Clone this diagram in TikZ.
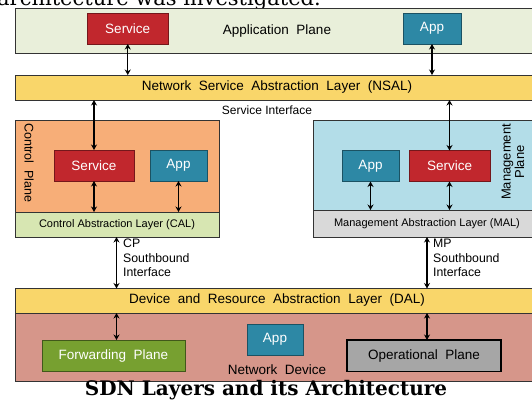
\documentclass[tikz,border=0pt]{standalone}
\usepackage{fontspec}
\setmainfont{Liberation Sans}
\newfontfamily\capfont{DejaVu Serif}
\usetikzlibrary{arrows.meta}

\definecolor{appbg}{HTML}{E9EFDA}
\definecolor{layeryel}{HTML}{F9D66A}
\definecolor{ctrlbg}{HTML}{F7AE78}
\definecolor{calbg}{HTML}{D7E6B2}
\definecolor{mgmtbg}{HTML}{B3DDE8}
\definecolor{malbg}{HTML}{D9D9D9}
\definecolor{svcred}{HTML}{C1272D}
\definecolor{appteal}{HTML}{2D88A5}
\definecolor{fwdgreen}{HTML}{77A030}
\definecolor{opgray}{HTML}{A6A6A6}
\definecolor{devbg}{HTML}{D6968A}
\definecolor{edge}{HTML}{333333}

\tikzset{
  panel/.style={draw=edge, line width=0.9pt, inner sep=0pt, outer sep=0pt},
  big/.style={font=\fontsize{13.5}{15}\selectfont},
  svcbox/.style={panel, big, fill=svcred, draw=svcred!60!black, text=white},
  appbox/.style={panel, big, fill=appteal, draw=appteal!60!black, text=white},
  lbl/.style={inner sep=0pt, big},
  small/.style={inner sep=0pt, font=\fontsize{11}{13}\selectfont},
  sbnote/.style={inner sep=0pt, anchor=north west, align=left, font=\fontsize{12.3}{14.5}\selectfont},
  link/.style={line width=1.3pt, {Stealth[length=5.5pt,width=6pt]}-{Stealth[length=5.5pt,width=6pt]}}
}

\begin{document}
\begin{tikzpicture}[x=1pt, y=-1pt]
\useasboundingbox (0,0) rectangle (532,410);
\clip (0,0) rectangle (532,410);

% sentence running in from the text above
\node[anchor=base west, inner sep=0pt, font=\capfont\fontsize{21}{24}\selectfont] (lead) at (-3,5) {architecture was investigated.};

% application plane
\node[panel, fill=appbg, minimum width=530, minimum height=44.5] (apl) at (280,30.75) {};
\node[lbl] (apltxt) at (277,31) {Application\ \ Plane};
\node[svcbox, minimum width=80.5, minimum height=31] (asvc) at (127.75,28.5) {Service};
\node[appbox, minimum width=58, minimum height=31] (aapp) at (432,28.5) {App};

% NSAL
\node[panel, fill=layeryel, minimum width=530, minimum height=25] (nsal) at (280,87.5) {};
\node[lbl] (nsaltxt) at (277,87.5) {Network\ \ Service\ \ Abstraction\ \ Layer\ \ (NSAL)};
\node[inner sep=0pt, font=\fontsize{12}{14}\selectfont] (sif) at (267,110) {Service Interface};

% control plane
\node[panel, fill=ctrlbg, minimum width=204, minimum height=92, anchor=north west] (ctrl) at (15,120) {};
\node[panel, fill=calbg, minimum width=204, minimum height=25, anchor=north west] (cal) at (15,212) {};
\node[small] (caltxt) at (117,224.5) {Control Abstraction Layer (CAL)};
\node[lbl, rotate=-90, font=\fontsize{12.5}{14}\selectfont] (ctrltxt) at (29,163) {Control\ \ Plane};
\node[svcbox, minimum width=80, minimum height=31] (csvc) at (94,165.5) {Service};
\node[appbox, minimum width=57, minimum height=31] (capp) at (178.5,165.5) {App};

% management plane
\node[panel, fill=mgmtbg, minimum width=225, minimum height=90, anchor=north west] (mgmt) at (313,120) {};
\node[panel, fill=malbg, minimum width=225, minimum height=27, anchor=north west] (mal) at (313,210) {};
\node[small] (maltxt) at (427,224) {Management Abstraction Layer (MAL)};
\node[lbl, rotate=90, align=center, font=\fontsize{13}{13.5}\selectfont] (mgmttxt) at (513,162) {Management\\Plane};
\node[appbox, minimum width=57, minimum height=31] (mapp) at (370.5,166) {App};
\node[svcbox, minimum width=81, minimum height=31] (msvc) at (449.5,166) {Service};

% DAL and network device
\node[panel, fill=devbg, minimum width=530, minimum height=68, anchor=north west] (dev) at (15,313) {};
\node[panel, fill=layeryel, minimum width=530, minimum height=24.5, anchor=north west] (dal) at (15,288.5) {};
\node[lbl] (daltxt) at (277,300.5) {Device\ \ and\ \ Resource\ \ Abstraction\ \ Layer\ \ (DAL)};
\node[panel, big, fill=fwdgreen, draw=fwdgreen!55!black, text=white, minimum width=143, minimum height=31.5] (fwd) at (113.5,355.75) {Forwarding\ \ Plane};
\node[appbox, minimum width=56, minimum height=31] (dapp) at (275,339.5) {App};
\node[lbl] (devtxt) at (277,370) {Network\ \ Device};
\node[panel, big, fill=opgray, draw=black, line width=1.6pt, minimum width=154, minimum height=31.5] (opl) at (424,355.75) {Operational\ \ Plane};

% southbound labels
\node[sbnote] (cpsb) at (123,239) {CP\\Southbound\\Interface};
\node[sbnote] (mpsb) at (433,239) {MP\\Southbound\\Interface};

% connectors
\draw[link] (asvc.south) -- (asvc.south |- nsal.north);
\draw[link] (aapp.south) -- (aapp.south |- nsal.north);
\draw[link] (csvc.north |- nsal.south) -- (csvc.north);
\draw[link] (msvc.north |- nsal.south) -- (msvc.north);
\draw[link] (csvc.south) -- (csvc.south |- cal.north);
\draw[link] (capp.south) -- (capp.south |- cal.north);
\draw[link] (mapp.south) -- (mapp.south |- mal.north);
\draw[link] (msvc.south) -- (msvc.south |- mal.north);
\coordinate (cpx) at (116.5,0);
\coordinate (mpx) at (427,0);
\draw[link] (cpx |- cal.south) -- (cpx |- dal.north);
\draw[link] (mpx |- mal.south) -- (mpx |- dal.north);
\draw[link] (cpx |- dal.south) -- (cpx |- fwd.north);
\draw[link] (mpx |- dal.south) -- (mpx |- opl.north);

% caption
\node[inner sep=0pt, font=\capfont\bfseries\fontsize{20}{24}\selectfont] (cap) at (266,390) {SDN Layers and its Architecture};
\end{tikzpicture}
\end{document}
